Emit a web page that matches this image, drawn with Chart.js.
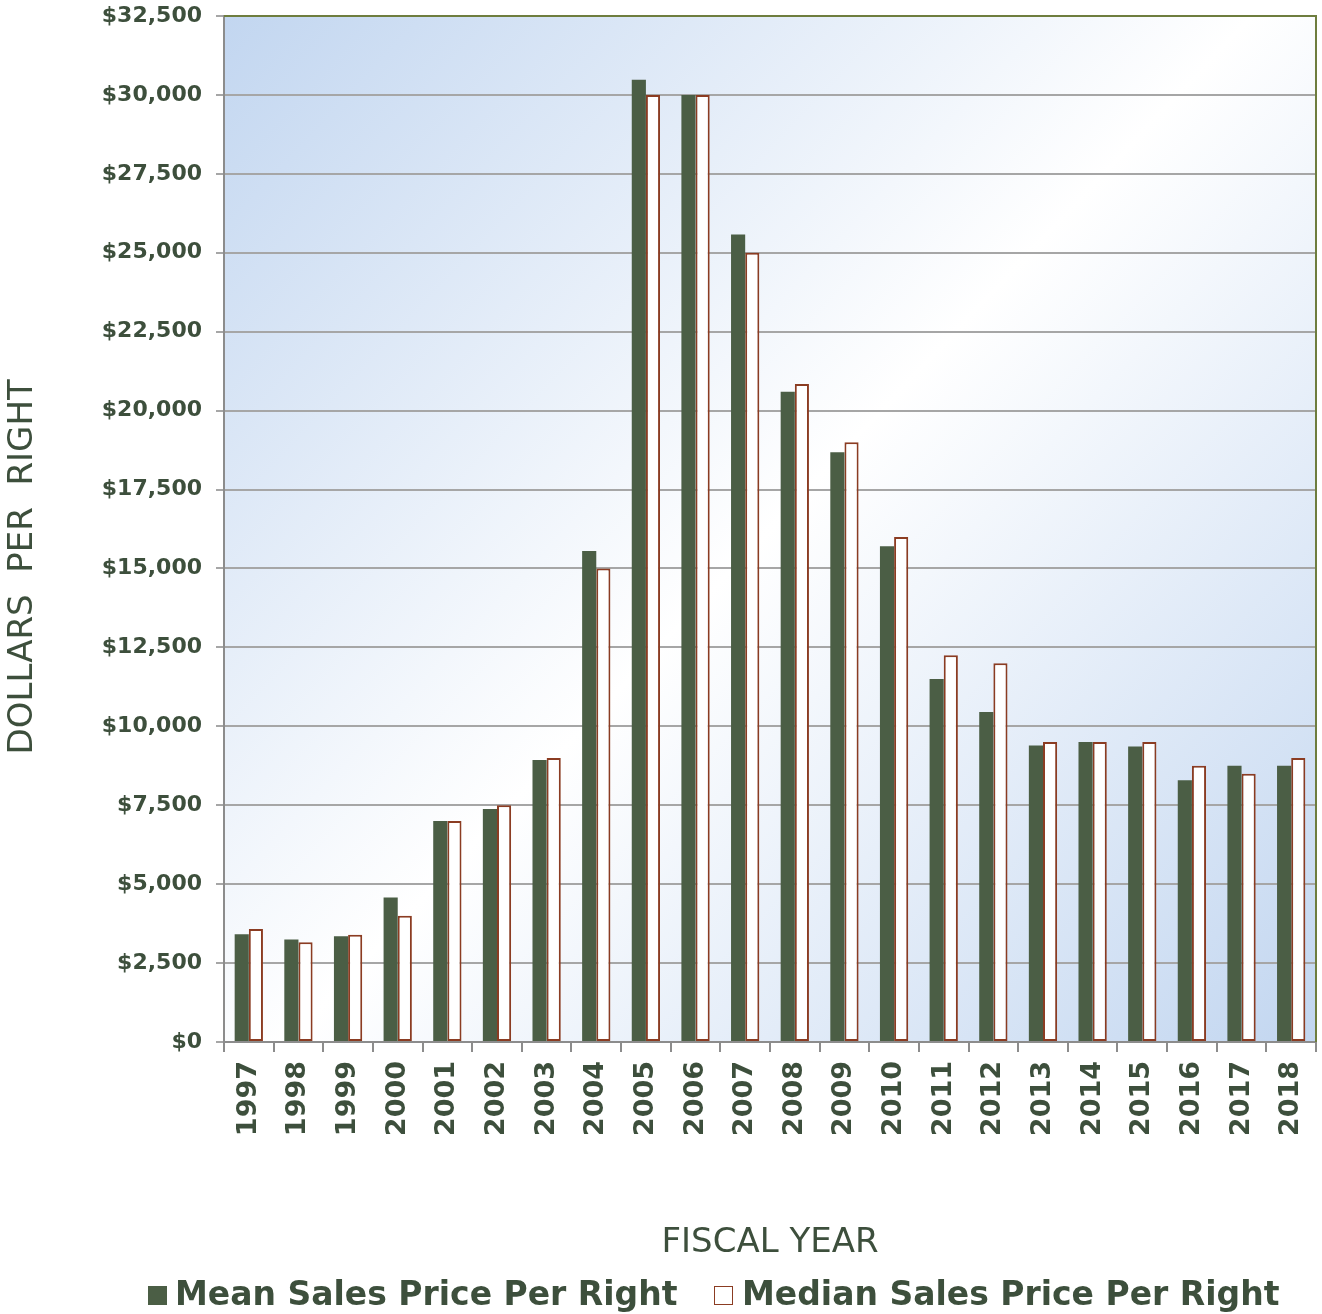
<!DOCTYPE html>
<html>
<head>
<meta charset="utf-8">
<script src="https://cdn.jsdelivr.net/npm/chart.js@4/dist/chart.umd.min.js"></script>
<style>
  html, body { margin: 0; padding: 0; background: #ffffff; }
  #wrap { width: 1322px; height: 1314px; position: relative; overflow: hidden; }
  #c { position: absolute; left: 0; top: 0; }
  .lg-box { position: absolute; box-sizing: border-box; }
  .lg-text { position: absolute; white-space: nowrap; font-family: 'DejaVu Sans', Verdana, sans-serif;
             font-weight: bold; font-size: 33px; line-height: 33px; color: #3d4f3c; }
</style>
</head>
<body>
<div id="wrap"><canvas id="c" width="1322" height="1314"></canvas><div id="legend"></div></div>
<script>
const years = ['1997','1998','1999','2000','2001','2002','2003','2004','2005','2006','2007','2008','2009','2010','2011','2012','2013','2014','2015','2016','2017','2018'];
const meanPrice = [3410, 3250, 3350, 4580, 7000, 7380, 8930, 15550, 30480, 30000, 25580, 20600, 18680, 15700, 11500, 10450, 9390, 9500, 9360, 8290, 8750, 8750];
const medianPrice = [3580, 3160, 3400, 4000, 7000, 7500, 9000, 15000, 30000, 30000, 25000, 20840, 19000, 16000, 12250, 12000, 9500, 9500, 9500, 8750, 8500, 9000];
const seriesNames = ['Mean Sales Price Per Right', 'Median Sales Price Per Right'];
const yTicks = [0, 2500, 5000, 7500, 10000, 12500, 15000, 17500, 20000, 22500, 25000, 27500, 30000, 32500];

const TEXT = '#3d4f3c';
const FONT = "'DejaVu Sans', Verdana, sans-serif";
const MEAN_COLOR = '#4b5e45';
const MEDIAN_BORDER = '#8b3c22';

const bgPlugin = {
  id: 'bgGradient',
  beforeDraw(chart) {
    const {ctx, chartArea: a} = chart;
    const g = ctx.createLinearGradient(a.left, a.top, a.right, a.bottom);
    g.addColorStop(0, '#c2d6f0');
    g.addColorStop(0.5, '#ffffff');
    g.addColorStop(1, '#c2d6f0');
    ctx.save();
    ctx.fillStyle = g;
    ctx.fillRect(a.left, a.top, a.right - a.left, a.bottom - a.top);
    ctx.restore();
  },
  afterDatasetsDraw(chart) {
    const {ctx, chartArea: a} = chart;
    ctx.save();
    ctx.strokeStyle = '#6e7d3e';
    ctx.lineWidth = 2;
    ctx.beginPath();
    ctx.moveTo(a.left, a.top);
    ctx.lineTo(a.right, a.top);
    ctx.lineTo(a.right, a.bottom);
    ctx.stroke();
    ctx.restore();
  }
};

const chart = new Chart(document.getElementById('c'), {
  type: 'bar',
  data: {
    labels: years,
    datasets: [
      {
        label: seriesNames[0],
        data: meanPrice,
        backgroundColor: MEAN_COLOR,
        borderColor: MEAN_COLOR,
        borderWidth: 0
      },
      {
        label: seriesNames[1],
        data: medianPrice,
        backgroundColor: '#ffffff',
        borderColor: MEDIAN_BORDER,
        borderWidth: 2,
        borderSkipped: false
      }
    ]
  },
  options: {
    responsive: false,
    animation: false,
    devicePixelRatio: 1,
    layout: { padding: { left: 0, right: 6, top: 16, bottom: 50 } },
    datasets: { bar: { categoryPercentage: 0.57, barPercentage: 1.0 } },
    plugins: {
      tooltip: { enabled: false },
      legend: { display: false }
    },
    scales: {
      x: {
        offset: true,
        grid: { drawOnChartArea: false, drawTicks: true, tickLength: 10, offset: true, color: '#8c8c8c', lineWidth: 2 },
        border: { color: '#8c8c8c', width: 2 },
        ticks: {
          color: TEXT,
          font: { family: FONT, size: 27, weight: 'bold' },
          minRotation: 90,
          maxRotation: 90,
          padding: 9,
          autoSkip: false
        },
        title: {
          display: true,
          text: 'FISCAL YEAR',
          color: TEXT,
          font: { family: FONT, size: 34, weight: 'normal' },
          padding: { top: 0, bottom: 0 }
        },
        afterFit(scale) { scale.height = 222; scale.paddingLeft = 0; scale.paddingRight = 0; }
      },
      y: {
        min: 0,
        max: 32500,
        afterBuildTicks(scale) { scale.ticks = yTicks.map(v => ({ value: v })); },
        grid: {
          color: '#a6a6a6',
          lineWidth: 2,
          tickLength: 8,
          drawTicks: true
        },
        border: { color: '#8c8c8c', width: 2 },
        ticks: {
          color: TEXT,
          font: { family: FONT, size: 22, weight: 'bold' },
          padding: 14,
          callback: v => '$' + v.toLocaleString('en-US')
        },
        title: {
          display: true,
          text: 'DOLLARS  PER  RIGHT       ',
          color: TEXT,
          font: { family: FONT, size: 34, weight: 'normal' },
          padding: { top: 3, bottom: 0 }
        },
        afterFit(scale) { scale.width = 224; scale.paddingTop = 0; scale.paddingBottom = 0; }
      }
    }
  },
  plugins: [bgPlugin]
});

// HTML legend built from the series names and dataset colours
const legendEl = document.getElementById('legend');
const legendItems = [
  { name: seriesNames[0], boxLeft: 148, textLeft: 175, fill: MEAN_COLOR, border: MEAN_COLOR },
  { name: seriesNames[1], boxLeft: 714, textLeft: 742, fill: '#ffffff', border: MEDIAN_BORDER }
];
legendItems.forEach(it => {
  const b = document.createElement('div');
  b.className = 'lg-box';
  b.style.left = it.boxLeft + 'px';
  b.style.top = '1286px';
  b.style.width = '19px';
  b.style.height = '19px';
  b.style.background = it.fill;
  b.style.border = '1.5px solid ' + it.border;
  legendEl.appendChild(b);
  const t = document.createElement('div');
  t.className = 'lg-text';
  t.style.left = it.textLeft + 'px';
  t.style.top = '1277px';
  t.textContent = it.name;
  legendEl.appendChild(t);
});
</script>
</body>
</html>
